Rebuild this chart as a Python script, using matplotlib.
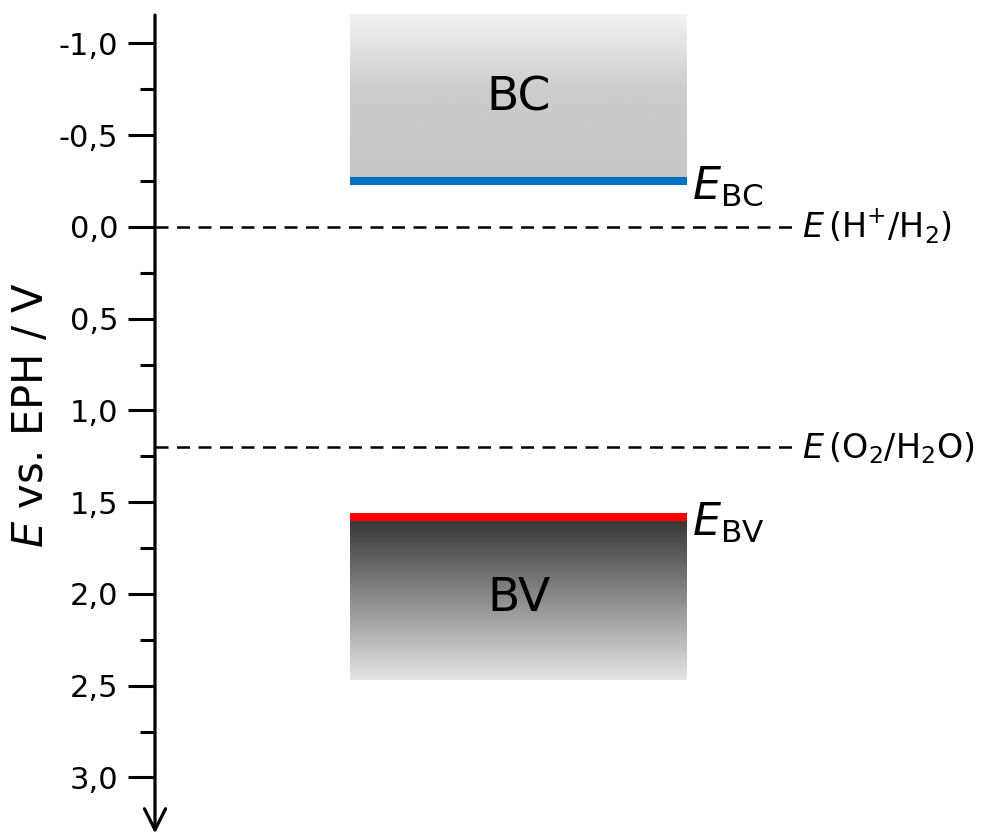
import numpy as np
import matplotlib
matplotlib.use('Agg')
import matplotlib.pyplot as plt
from matplotlib.ticker import FixedLocator, FuncFormatter

plt.rcParams['font.family'] = ['DejaVu Sans']
plt.rcParams['mathtext.fontset'] = 'dejavusans'

# band data (V vs. EPH)
band_names = ['BC', 'BV']
band_edge = [-0.25, 1.58]      # E_BC, E_BV
band_far = [-1.16, 2.47]       # outer limit of the shaded band
edge_labels = [r'$E_{\mathrm{BC}}$', r'$E_{\mathrm{BV}}$']
edge_colors = ['#0070c0', '#ff0000']

redox_E = [0.0, 1.2]
redox_labels = [r'$E\,(\mathrm{H^{+}/H_2})$', r'$E\,(\mathrm{O_2/H_2O})$']

major_ticks = [-1.0, -0.5, 0.0, 0.5, 1.0, 1.5, 2.0, 2.5, 3.0]
minor_ticks = [-0.75, -0.25, 0.25, 0.75, 1.25, 1.75, 2.25, 2.75]

fig = plt.figure(figsize=(9.92, 8.36), dpi=100)
ax = fig.add_axes([155/992, 0, 837/992, 1])
ax.set_xlim(0, 837)
ax.set_ylim(3.319, -1.237)
for s in ax.spines.values():
    s.set_visible(False)

# box horizontal span (pixels from axis)
bx0, bx1 = 195, 532

# gradients
grad_bc = np.interp(np.linspace(0, 1, 200), [0, 0.45, 1], [0.95, 0.80, 0.78])
grad_bv = np.interp(np.linspace(0, 1, 200), [0, 1], [0.20, 0.89])
for name, e, far, g in zip(band_names, band_edge, band_far, [grad_bc, grad_bv]):
    top, bot = min(e, far), max(e, far)
    img = np.repeat(g[:, None], 2, axis=1)
    ax.imshow(img, cmap='gray', vmin=0, vmax=1, aspect='auto',
              extent=(bx0, bx1, bot, top), interpolation='bilinear', zorder=1)
    ax.text((bx0 + bx1) / 2, (e + far) / 2, name, fontsize=34,
            ha='center', va='center', zorder=3)

for e, lab, c in zip(band_edge, edge_labels, edge_colors):
    ax.plot([bx0, bx1], [e, e], color=c, lw=5.8, solid_capstyle='butt', zorder=2)
    ax.text(537, e + (0.105 if e > 0 else 0.098), lab, fontsize=32,
            ha='left', va='baseline')

for e, lab in zip(redox_E, redox_labels):
    ax.plot([0, 645], [e, e], color='black', lw=1.8, dashes=(5.2, 3.4), zorder=2)
    ax.text(647, e + 0.06, lab, fontsize=24, ha='left', va='baseline')

# axis arrow
ax.annotate('', xy=(0, 3.305), xytext=(0, -1.155),
            arrowprops=dict(arrowstyle='->', lw=2.3, color='black',
                            mutation_scale=38, shrinkA=0, shrinkB=0),
            annotation_clip=False)

ax.yaxis.set_major_locator(FixedLocator(major_ticks))
ax.yaxis.set_minor_locator(FixedLocator(minor_ticks))
ax.yaxis.set_major_formatter(FuncFormatter(lambda v, p: f'{v:.1f}'.replace('.', ',').replace('-0,0', '0,0')))
ax.tick_params(axis='y', which='major', length=19.5, width=2.2, labelsize=22, pad=7)
ax.tick_params(axis='y', which='minor', length=11, width=2.2)
ax.set_xticks([])
ax.set_ylabel(r'$E$ vs. EPH / V', fontsize=30)
ax.yaxis.set_label_coords(-103/837, (836 - 415) / 836)

fig.savefig('out.png', dpi=100)
